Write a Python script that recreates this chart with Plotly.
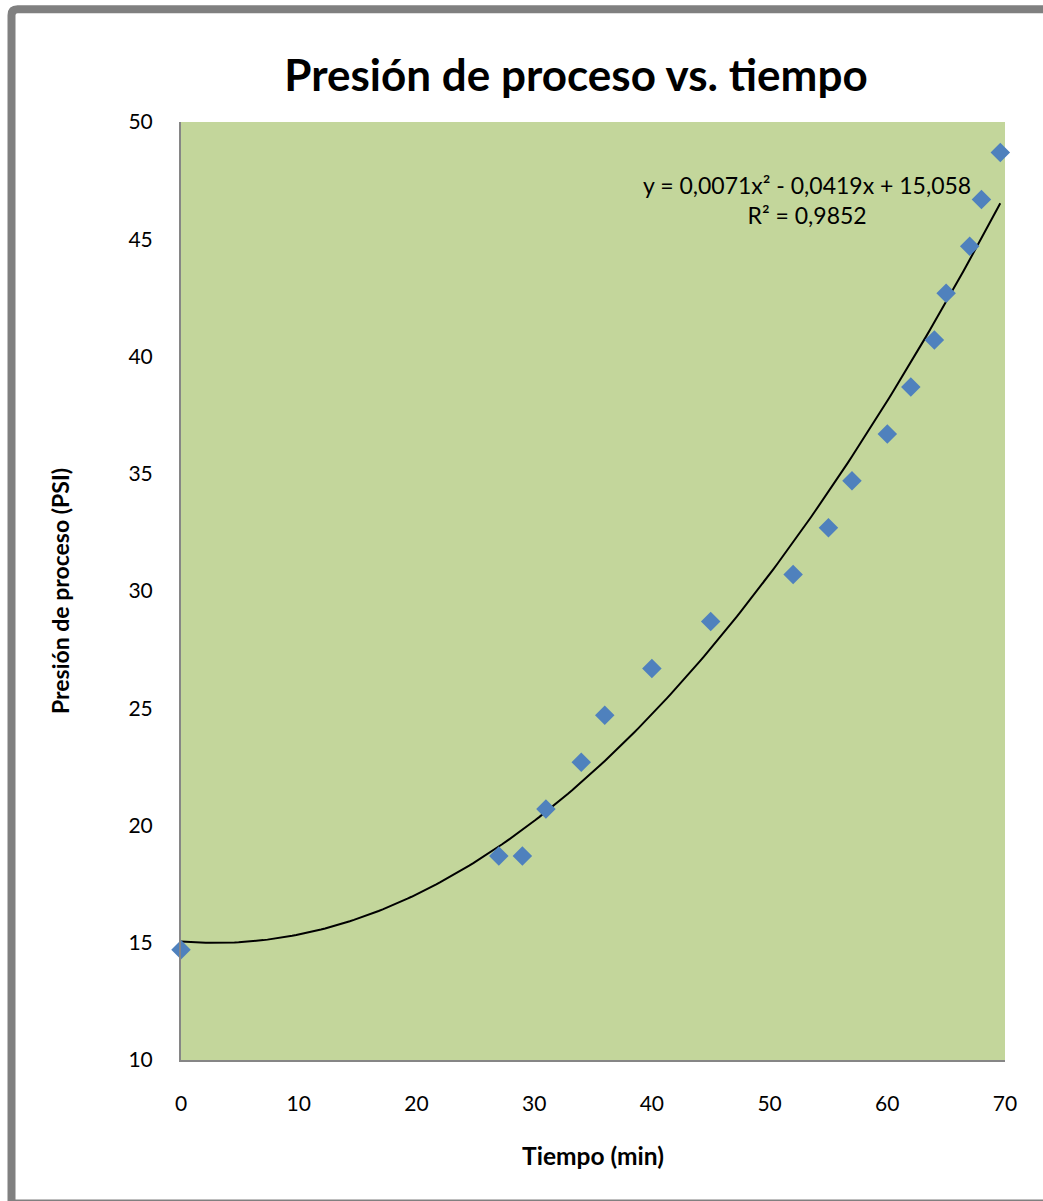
import plotly.graph_objects as go

# Measured process pressure over time
tiempo_min = [0, 27, 29, 31, 34, 36, 40, 45, 52, 55, 57, 60, 62, 64, 65, 67, 68, 69.6]
presion_psi = [14.7, 18.7, 18.7, 20.7, 22.7, 24.7, 26.7, 28.7, 30.7, 32.7, 34.7,
               36.7, 38.7, 40.7, 42.7, 44.7, 46.7, 48.7]

# Second-order polynomial trendline coefficients (a*x^2 + b*x + c) and fit quality
coef_a, coef_b, coef_c = 0.0071, -0.0419, 15.058
r_cuadrado = 0.9852

x_ticks = [0, 10, 20, 30, 40, 50, 60, 70]
y_ticks = [10, 15, 20, 25, 30, 35, 40, 45, 50]

W, H = 1043, 1201
L, R, T, B = 181, 38, 122, 141
FONT = "Lato"

# Trendline sampled across the range of the data
n = 200
x0, x1 = min(tiempo_min), max(tiempo_min)
xs = [x0 + (x1 - x0) * i / (n - 1) for i in range(n)]
ys = [coef_a * x * x + coef_b * x + coef_c for x in xs]

fig = go.Figure()
fig.add_trace(go.Scatter(
    x=xs, y=ys, mode="lines",
    line=dict(color="black", width=2),
    hoverinfo="skip", showlegend=False,
))
fig.add_trace(go.Scatter(
    x=tiempo_min, y=presion_psi, mode="markers",
    marker=dict(symbol="diamond", size=15, color="#4F81BD", line=dict(width=0)),
    cliponaxis=False, showlegend=False,
))

# pixel -> paper helpers for placing elements around the plot area
pw, ph = W - L - R, H - T - B


def px(v):
    return (v - L) / pw


def py(v):
    return (H - B - v) / ph


def fmt(v, d):
    return f"{v:.{d}f}".replace(".", ",")


eq_text = (f"y = {fmt(coef_a, 4)}x² - {fmt(abs(coef_b), 4)}x + {fmt(coef_c, 3)}"
           f"<br>R² = {fmt(r_cuadrado, 4)}")
fig.add_annotation(
    x=px(807), y=py(200), xref="paper", yref="paper", text=eq_text, showarrow=False,
    xanchor="center", yanchor="middle", align="center",
    font=dict(family=FONT, size=23, color="black"),
)

# Outer frame with a rounded top-left corner
r = 6
left, top, right, bottom = 11.5, 9.2, 1060, 1203.5
frame_path = (f"M {px(left)},{py(bottom)} L {px(left)},{py(top + r)} "
              f"Q {px(left)},{py(top)} {px(left + r)},{py(top)} "
              f"L {px(right)},{py(top)} L {px(right)},{py(bottom)} Z")
fig.add_shape(type="path", path=frame_path, xref="paper", yref="paper",
              line=dict(color="#808080", width=8), fillcolor="rgba(0,0,0,0)", layer="above")

axis_common = dict(
    showgrid=False, zeroline=False, showline=True, linecolor="#868686", linewidth=2,
    ticks="", tickfont=dict(family=FONT, size=21, color="black"),
)

fig.update_layout(
    width=W, height=H,
    margin=dict(l=L, r=R, t=T, b=B),
    paper_bgcolor="white", plot_bgcolor="#C3D69B",
    title=dict(text="<b>Presión de proceso vs. tiempo</b>", x=px(576), xanchor="center",
               xref="paper", y=1 - 76 / H, yanchor="middle",
               font=dict(family=FONT, size=44, color="black")),
    xaxis=dict(range=[0, 70], tickvals=x_ticks, ticklabelstandoff=24,
               title=dict(text="<b>Tiempo (min)</b>", standoff=34,
                          font=dict(family=FONT, size=24.5, color="black")),
               **axis_common),
    yaxis=dict(range=[10, 50], tickvals=y_ticks, ticklabelstandoff=22,
               title=dict(text="<b>Presión de proceso (PSI)</b>", standoff=52,
                          font=dict(family=FONT, size=23, color="black")),
               **axis_common),
    showlegend=False,
)

fig.write_html("out.html")
